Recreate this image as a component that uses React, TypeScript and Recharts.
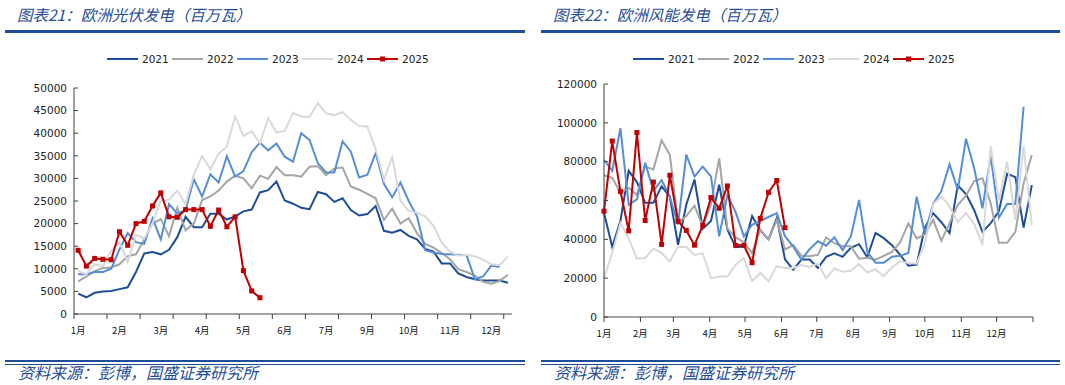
import React from "react";
import { LineChart, Line, XAxis, YAxis } from "recharts";

const SERIES_NAMES = ["2021", "2022", "2023", "2024", "2025"];
const SERIES_COLORS = ["#1F4E99", "#A5A5A5", "#558ED5", "#D9D9D9", "#C00000"];
const BLUE = "#1F4E99";

// 欧洲光伏发电, weekly (百万瓦)
const SOLAR_2021 = [4500, 3700, 4700, 5000, 5100, 5500, 5900, 9300, 13400, 13700, 13200, 14200, 17000, 21500, 19200, 19200, 22200, 22200, 20900, 21600, 22700, 23100, 26900, 27400, 29300, 25100, 24400, 23500, 23200, 27000, 26500, 24800, 25600, 23000, 21800, 22100, 23900, 18400, 18000, 18600, 17300, 16500, 14400, 13800, 11200, 11200, 9000, 8200, 7700, 7400, 7400, 7400, 6900];
const SOLAR_2022 = [7200, 8300, 9500, 10200, 10300, 11000, 12800, 13200, 16500, 20000, 21000, 17200, 23500, 18500, 20000, 25200, 26000, 27300, 29300, 30600, 30000, 27800, 30600, 29900, 32500, 30700, 30700, 30400, 32600, 32700, 30700, 32200, 32400, 28200, 27500, 26600, 25600, 20800, 23300, 20000, 21200, 17900, 15500, 14700, 13500, 12100, 9900, 9300, 8500, 7100, 6700, 7300, 8700];
const SOLAR_2023 = [8800, 8800, 9300, 9300, 10000, 14300, 17900, 15900, 15500, 21200, 16500, 24300, 22200, 23000, 29800, 26000, 30900, 29100, 34900, 30400, 31600, 35800, 37900, 36200, 37700, 34800, 33700, 40000, 38500, 33400, 31300, 31300, 38200, 35900, 30200, 30800, 35600, 28800, 25800, 29100, 25000, 21600, 14100, 13600, 13300, 13200, 13100, 13000, 7700, 8300, 10700, 10400];
const SOLAR_2024 = [9500, 8800, 11000, 10600, 14000, 15900, 11500, 17500, 16700, 20000, 25200, 25300, 27300, 24300, 30800, 35000, 32000, 35500, 37000, 43700, 39400, 40400, 37800, 43300, 40200, 40500, 44500, 43700, 43600, 46700, 44400, 44000, 44700, 42900, 41600, 41500, 36500, 29700, 34700, 25100, 22800, 22400, 21600, 19500, 15800, 13800, 12900, 13100, 12800, 12000, 11000, 10800, 12700];
const SOLAR_2025 = [14100, 10600, 12300, 12100, 12000, 18200, 15200, 20000, 20500, 23900, 26800, 21500, 21400, 23100, 23100, 23100, 19400, 23000, 19300, 21500, 9600, 5100, 3600];
const SOLAR_MONTHS = ["1月", "2月", "3月", "4月", "5月", "6月", "7月", "9月", "10月", "11月", "12月"];
const SOLAR_Y_TICKS = [0, 5000, 10000, 15000, 20000, 25000, 30000, 35000, 40000, 45000, 50000];

// 欧洲风能发电, weekly (百万瓦)
const WIND_2021 = [53700, 36000, 49500, 75300, 69500, 58800, 58800, 67300, 62000, 37200, 57800, 70800, 45500, 49500, 68100, 45000, 36000, 36300, 52000, 44600, 40000, 51000, 29700, 24400, 29600, 29600, 25300, 31000, 32800, 31000, 35600, 37500, 30800, 43300, 40600, 37000, 32000, 26400, 27000, 46000, 53500, 48800, 43200, 67800, 63300, 55000, 43800, 48300, 54500, 73800, 72000, 46000, 67900];
const WIND_2022 = [73000, 71700, 64000, 66500, 63000, 77500, 76000, 91000, 83500, 48500, 52000, 57300, 46500, 58000, 81700, 45500, 41000, 38500, 33000, 45000, 40000, 50000, 34700, 37000, 31500, 31300, 32000, 41000, 38000, 36500, 36500, 30000, 30500, 29500, 31500, 33500, 38500, 48200, 40500, 42500, 50000, 39300, 48200, 57700, 62500, 70000, 71400, 58500, 38200, 38200, 43800, 68800, 83400];
const WIND_2023 = [81000, 75300, 97200, 57800, 60600, 79500, 65000, 70500, 62000, 47700, 83600, 72300, 77500, 72400, 41500, 62800, 54000, 41500, 47500, 49500, 51500, 53500, 41600, 36300, 29500, 35000, 39000, 36700, 41000, 34500, 41500, 60300, 33500, 28000, 28000, 31000, 31500, 33000, 62000, 43000, 58200, 64800, 78600, 65500, 91800, 76500, 56000, 82800, 51200, 58200, 58200, 108300];
const WIND_2024 = [20000, 33000, 48500, 40500, 30000, 30400, 35200, 33000, 28600, 36200, 36000, 32000, 32800, 20000, 20800, 20800, 27000, 30300, 18500, 22800, 18400, 26200, 25300, 25300, 26800, 25800, 27500, 20000, 25000, 23300, 23800, 27300, 22900, 24500, 21000, 25500, 28700, 27800, 27500, 38000, 58000, 62000, 57000, 48800, 53500, 48000, 37000, 88000, 60000, 80000, 50000, 88000, 47300];
const WIND_2025 = [54500, 90600, 64600, 44400, 95000, 49700, 69500, 37400, 73000, 49300, 44600, 37000, 47200, 61500, 56000, 67500, 36900, 36900, 28000, 50800, 64200, 70300, 46000];
const WIND_MONTHS = ["1月", "2月", "3月", "4月", "5月", "6月", "7月", "8月", "9月", "10月", "11月", "12月"];
const WIND_MONTH_DAYS = [0, 31, 59, 90, 120, 151, 181, 212, 243, 273, 304, 334, 365];
const WIND_Y_TICKS = [0, 20000, 40000, 60000, 80000, 100000, 120000];

const SOLAR_SERIES = [SOLAR_2021, SOLAR_2022, SOLAR_2023, SOLAR_2024, SOLAR_2025];
const WIND_SERIES = [WIND_2021, WIND_2022, WIND_2023, WIND_2024, WIND_2025];

// category axis: week i sits in the middle of its slot
const solarData = SOLAR_2021.map((_, i) => {
  const row: Record<string, number | null> = { x: i + 0.5 };
  SERIES_NAMES.forEach((name, s) => {
    row[name] = SOLAR_SERIES[s][i] ?? null;
  });
  return row;
});

// date axis: weekly points, day of year
const windData = WIND_2021.map((_, i) => {
  const row: Record<string, number | null> = { x: i * 7 };
  SERIES_NAMES.forEach((name, s) => {
    row[name] = WIND_SERIES[s][i] ?? null;
  });
  return row;
});

// tick marks every 4 weeks, labels every 5 weeks
const solarMarks = Array.from({ length: 14 }, (_, k) => k * 4);
const solarLabelMap = new Map(SOLAR_MONTHS.map((m, k) => [k * 5 + 0.5, m] as [number, string]));
const solarTicks = [...solarMarks, ...solarLabelMap.keys()].sort((a, b) => a - b);

const windLabelMap = new Map(WIND_MONTHS.map((m, k) => [WIND_MONTH_DAYS[k], m] as [number, string]));

const makeTick = (marks: Set<number>, labels: Map<number, string>) => (props: any) => {
  const { x, y, payload } = props;
  const v = payload.value;
  const label = labels.get(v);
  return (
    <g key={`t-${v}`}>
      {marks.has(v) && <line x1={x} x2={x} y1={y} y2={y + 5} stroke="#404040" strokeWidth={1} />}
      {label && (
        <text
          x={x}
          y={y + 16}
          textAnchor="middle"
          dominantBaseline="central"
          fontSize={9.5}
          fontFamily='"Noto Sans CJK SC", sans-serif'
          fill="#111"
        >
          {label}
        </text>
      )}
    </g>
  );
};

const squareDot = (props: any) => {
  const { cx, cy, index } = props;
  if (cx == null || cy == null) return <g key={`d-${index}`} />;
  return <rect key={`d-${index}`} x={cx - 2.5} y={cy - 2.5} width={5} height={5} fill="#C00000" />;
};

const yTickStyle = { fontSize: 10.5, fill: "#222", fontFamily: '"DejaVu Sans", sans-serif' };

function SeriesLines() {
  return SERIES_NAMES.map((name, i) => (
    <Line
      key={name}
      dataKey={name}
      type="linear"
      stroke={SERIES_COLORS[i]}
      strokeWidth={2}
      dot={i === 4 ? squareDot : false}
      activeDot={false}
      isAnimationActive={false}
    />
  ));
}

function LegendRow({ left }: { left: number }) {
  return (
    <div style={{ position: "absolute", left, top: 52, height: 14, display: "flex" }}>
      {SERIES_NAMES.map((name, i) => (
        <div key={name} style={{ width: 65, height: 14, display: "flex", alignItems: "center" }}>
          <svg width={31} height={14}>
            <line x1={0} x2={31} y1={7} y2={7} stroke={SERIES_COLORS[i]} strokeWidth={2} />
            {i === 4 && <rect x={13} y={4.5} width={5} height={5} fill={SERIES_COLORS[i]} />}
          </svg>
          <span style={{ marginLeft: 4, fontSize: 10.5, fontFamily: '"DejaVu Sans", sans-serif', color: "#222" }}>
            {name}
          </span>
        </div>
      ))}
    </div>
  );
}

function Frame({ left, width, title }: { left: number; width: number; title: string }) {
  const cjk = '"Noto Sans CJK SC", sans-serif';
  return (
    <>
      <div
        style={{
          position: "absolute",
          left: left + 12,
          top: 4,
          fontSize: 15.5,
          lineHeight: "20px",
          fontStyle: "italic",
          color: BLUE,
          fontFamily: cjk,
          whiteSpace: "nowrap",
        }}
      >
        {title}
      </div>
      <div style={{ position: "absolute", left, top: 30, width, height: 2.5, background: BLUE }} />
      <div style={{ position: "absolute", left, top: 360, width, height: 2, background: BLUE }} />
      <div style={{ position: "absolute", left, top: 363.5, width, height: 1, background: BLUE }} />
      <div
        style={{
          position: "absolute",
          left: left + 13,
          top: 362,
          fontSize: 16,
          lineHeight: "20px",
          fontStyle: "italic",
          color: BLUE,
          fontFamily: cjk,
          whiteSpace: "nowrap",
        }}
      >
        资料来源：彭博，国盛证券研究所
      </div>
    </>
  );
}

export default function App() {
  return (
    <div style={{ position: "absolute", left: 0, top: 0, width: 1065, height: 385, background: "#fff", overflow: "hidden" }}>
      <Frame left={5} width={520} title="图表21：欧洲光伏发电（百万瓦）" />
      <Frame left={541} width={519} title="图表22：欧洲风能发电（百万瓦）" />
      <LegendRow left={107} />
      <LegendRow left={633} />

      <div style={{ position: "absolute", left: 0, top: 40 }}>
        <LineChart width={530} height={310} data={solarData} margin={{ top: 48, right: 18, bottom: 6, left: 14 }}>
          <XAxis
            dataKey="x"
            type="number"
            domain={[0, 53]}
            ticks={solarTicks}
            interval={0}
            tickLine={false}
            tickSize={0}
            tickMargin={0}
            height={30}
            axisLine={{ stroke: "#868686", strokeWidth: 1.5 }}
            tick={makeTick(new Set(solarMarks), solarLabelMap)}
          />
          <YAxis
            type="number"
            domain={[0, 50000]}
            ticks={SOLAR_Y_TICKS}
            interval={0}
            width={60}
            tickSize={-4}
            tickMargin={11}
            axisLine={{ stroke: "#404040" }}
            tickLine={{ stroke: "#404040" }}
            tick={yTickStyle}
          />
          {SeriesLines()}
        </LineChart>
      </div>

      <div style={{ position: "absolute", left: 530, top: 40 }}>
        <LineChart width={535} height={310} data={windData} margin={{ top: 44, right: 32, bottom: 3, left: 14 }}>
          <XAxis
            dataKey="x"
            type="number"
            domain={[0, 365]}
            ticks={WIND_MONTH_DAYS}
            interval={0}
            tickLine={false}
            tickSize={0}
            tickMargin={0}
            height={30}
            axisLine={{ stroke: "#868686", strokeWidth: 1.5 }}
            tick={makeTick(new Set(WIND_MONTH_DAYS), windLabelMap)}
          />
          <YAxis
            type="number"
            domain={[0, 120000]}
            ticks={WIND_Y_TICKS}
            interval={0}
            width={60}
            tickSize={-4}
            tickMargin={11}
            axisLine={{ stroke: "#404040" }}
            tickLine={{ stroke: "#404040" }}
            tick={yTickStyle}
          />
          {SeriesLines()}
        </LineChart>
      </div>
    </div>
  );
}
